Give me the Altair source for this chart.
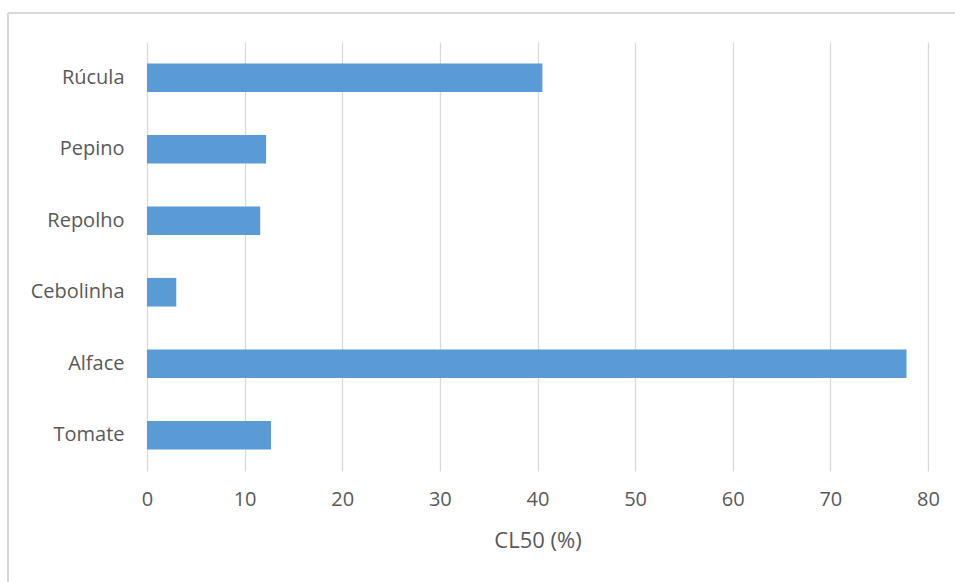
import altair as alt
import pandas as pd

categories = ["Rúcula", "Pepino", "Repolho", "Cebolinha", "Alface", "Tomate"]
values = [40.5, 12.2, 11.6, 3.0, 77.8, 12.7]
x_ticks = [0, 10, 20, 30, 40, 50, 60, 70, 80]

df = pd.DataFrame({"cultura": categories, "cl50": values})

FONT = "Open Sans"
LABEL_COLOR = "#595959"
GRID = "#d9d9d9"

bars = alt.Chart(df).mark_bar(color="#5b9bd5").encode(
    y=alt.Y("cultura:N", sort=categories,
            scale=alt.Scale(paddingInner=0.6, paddingOuter=0.3),
            axis=alt.Axis(title=None, ticks=False, domain=False, grid=False,
                          labelFont=FONT, labelFontSize=20, labelColor=LABEL_COLOR,
                          labelPadding=23)),
    x=alt.X("cl50:Q", scale=alt.Scale(domain=[0, 80], nice=False),
            axis=alt.Axis(title="CL50 (%)", values=x_ticks, ticks=False, domain=False,
                          grid=True, gridColor=GRID, gridWidth=1.3, labelFlush=False,
                          labelFont=FONT, labelFontSize=20, labelColor=LABEL_COLOR,
                          labelPadding=18, titleFont=FONT, titleFontSize=22,
                          titleColor=LABEL_COLOR, titleFontWeight="normal",
                          titlePadding=21)),
)

frame_top = alt.Chart(df).mark_rule(color=GRID, strokeWidth=1.5).encode(
    x=alt.value(-139), x2=alt.value(820), y=alt.value(-29)
)
frame_left = alt.Chart(df).mark_rule(color=GRID, strokeWidth=1.5).encode(
    x=alt.value(-139), y=alt.value(-29), y2=alt.value(560)
)

chart = alt.layer(bars, frame_top, frame_left).properties(
    width=781, height=429,
    autosize=alt.AutoSizeParams(type="none"),
    padding={"left": 147, "top": 42, "right": 27, "bottom": 111},
    background="white",
).configure_view(stroke=None)

chart.save("out.html", embed_options={"renderer": "svg", "actions": False})
